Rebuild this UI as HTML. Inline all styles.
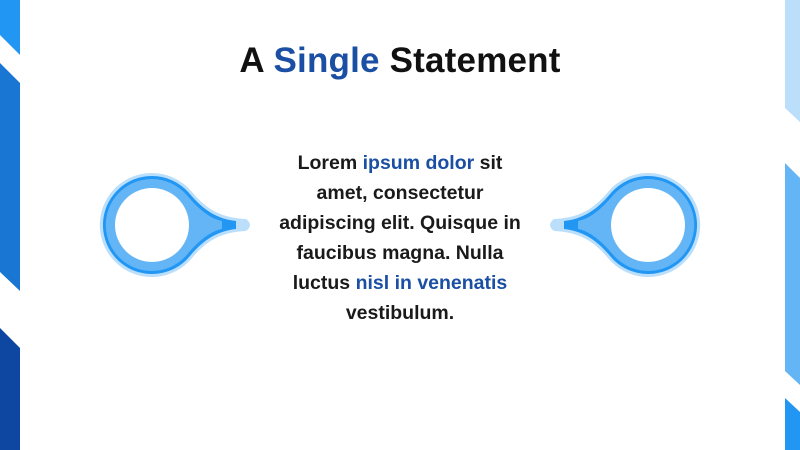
<!DOCTYPE html>
<html><head><style>
body{margin:0;width:800px;height:450px;background:#fff;overflow:hidden;position:relative;font-family:"Liberation Sans",sans-serif}
h1{position:absolute;top:41px;left:0;width:800px;text-align:center;margin:0;font-size:35px;font-weight:bold;color:#111;letter-spacing:0.2px}
.b{color:#1a4fa3}
.t{position:absolute;top:148px;left:255px;width:290px;text-align:center;font-size:19.5px;font-weight:bold;line-height:30px;color:#1a1a1a}
</style></head><body>
<svg width="800" height="450" style="position:absolute;left:0;top:0">
<polygon points="0,0 20,0 20,55 0,35" fill="#2196f3"/>
<polygon points="0,63 20,83 20,291 0,272" fill="#1976d2"/>
<polygon points="0,328 20,348 20,450 0,450" fill="#0d47a1"/>
<polygon points="785,0 800,0 800,122 785,108" fill="#bbdefb"/>
<polygon points="785,163 800,178 800,385 785,371" fill="#64b5f6"/>
<polygon points="785,398 800,412 800,450 785,450" fill="#2196f3"/>
<g id="n">
<path d="M152 173 A52 52 0 1 0 192 258 C207 240 222 232 246 231 Q254 225 246 219 C222 218 207 210 192 192 A52 52 0 0 0 152 173Z" fill="#bbdefb"/>
<path d="M152 176 A49 49 0 1 0 189.5 256.5 C204 239 218 231 236 229 L236 221 C218 219 204 211 189.5 193.5 A49 49 0 0 0 152 176Z" fill="#2196f3"/>
<path d="M152 179 A46 46 0 1 0 187 254.6 C201 238 212 231 222 229 L222 221 C212 219 201 212 187 195.4 A46 46 0 0 0 152 179Z" fill="#64b5f6"/>
<circle cx="152" cy="225" r="37" fill="#fff"/>
</g>
<use href="#n" transform="translate(800,0) scale(-1,1)"/>
</svg>
<h1>A <span class="b">Single</span> Statement</h1>
<div class="t">Lorem <span class="b">ipsum dolor</span> sit<br>amet, consectetur<br>adipiscing elit. Quisque in<br>faucibus magna. Nulla<br>luctus <span class="b">nisl in venenatis</span><br>vestibulum.</div>
</body></html>
